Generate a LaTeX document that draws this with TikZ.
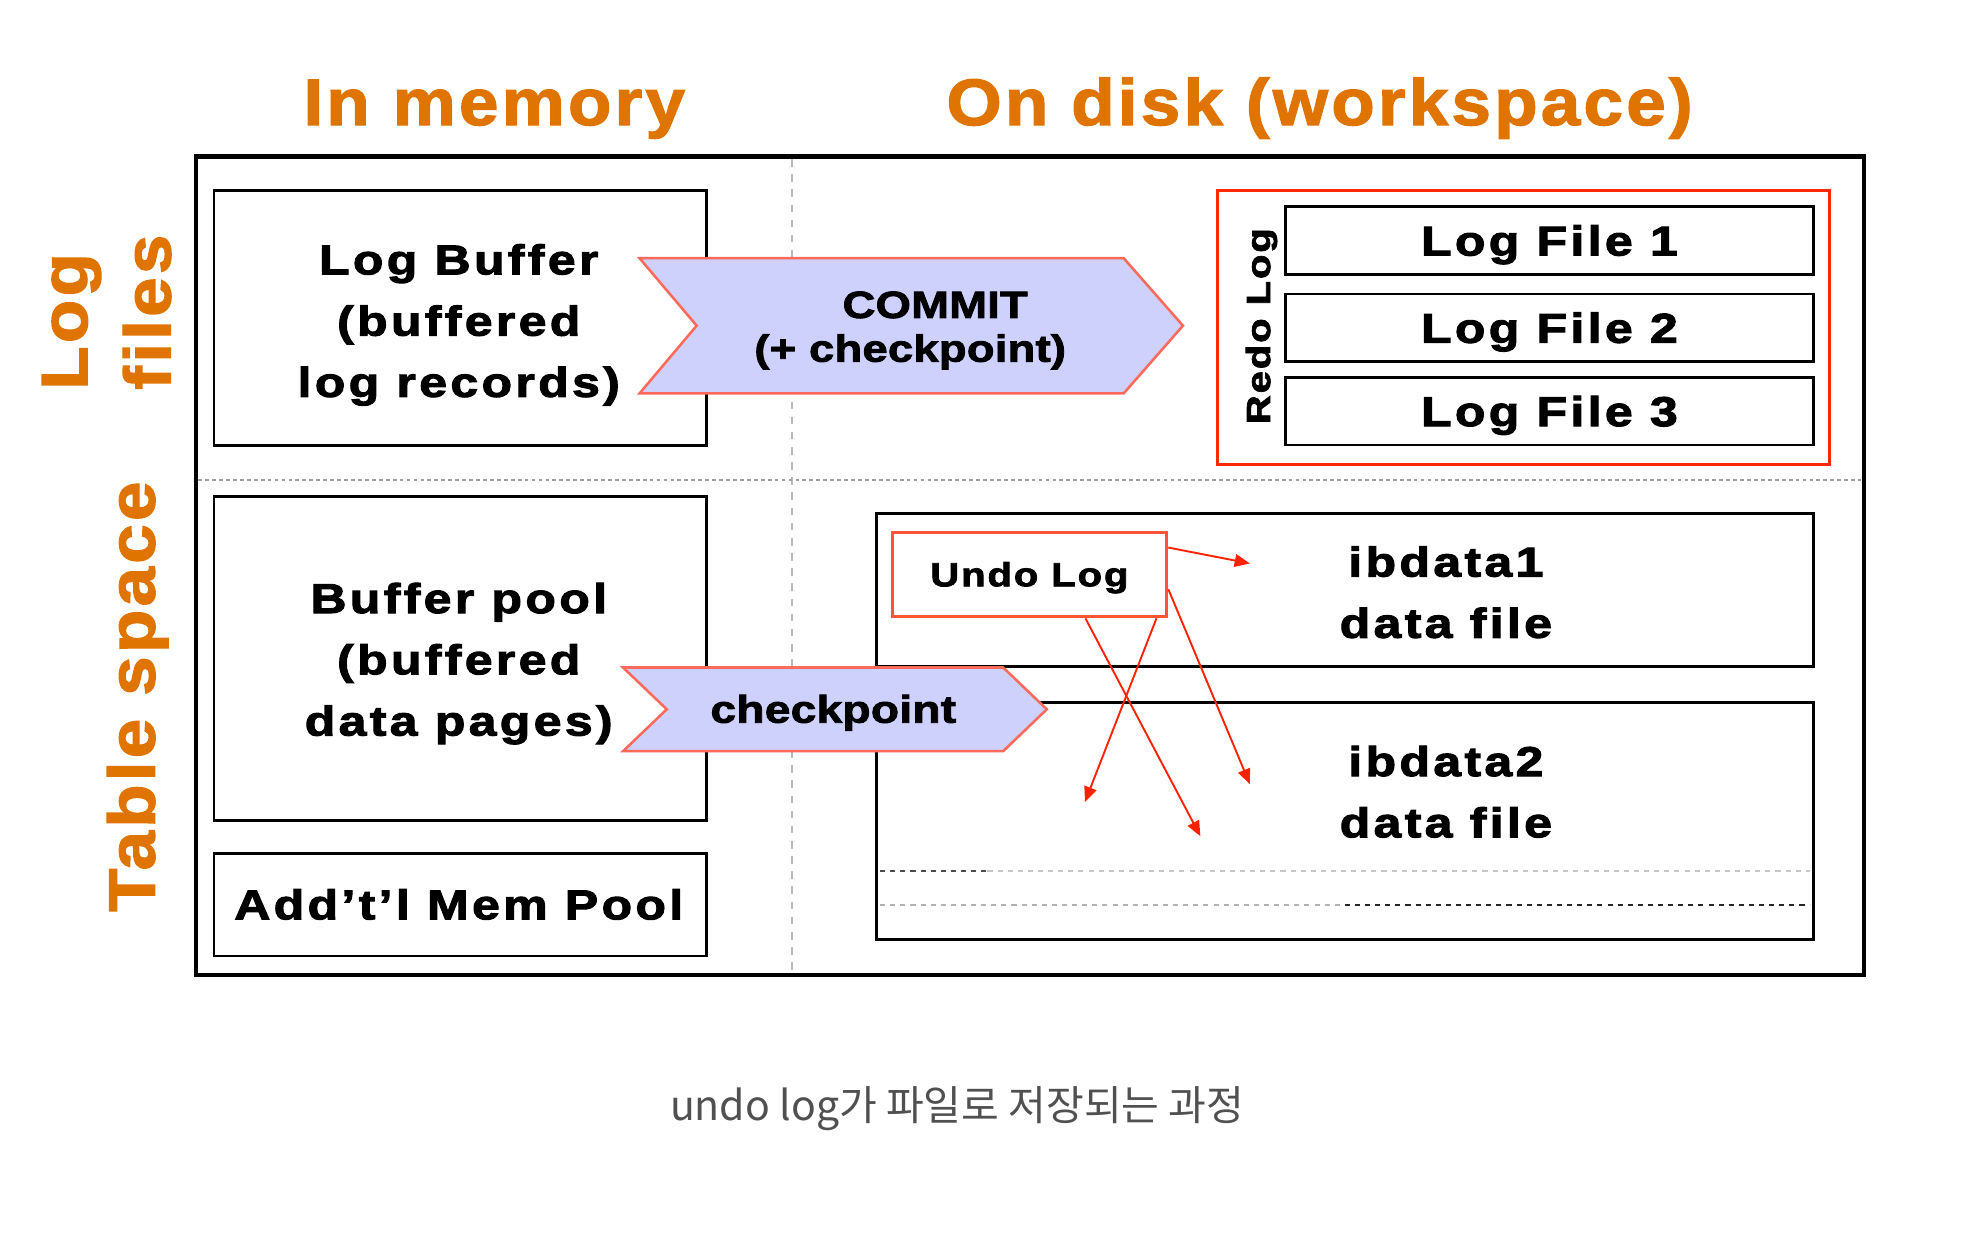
\documentclass[tikz,border=0pt]{standalone}
\usepackage{fontspec}
\setmainfont{Liberation Sans}
\newfontfamily\orangefont[LetterSpace=5,FakeStretch=1.08,FakeBold=2]{Liberation Sans}
\newfontfamily\boxfont[LetterSpace=8,FakeStretch=1.2,FakeBold=2.5]{Liberation Sans}
\newfontfamily\smallfont[LetterSpace=5.4,FakeStretch=1.2,FakeBold=2.2]{Liberation Sans}
\newfontfamily\commitfont[LetterSpace=0.5,FakeStretch=1.2,FakeBold=2.2]{Liberation Sans}
\newfontfamily\kofont{Noto Sans CJK KR}
\usetikzlibrary{arrows.meta}
\definecolor{orangetxt}{RGB}{224,116,0}
\definecolor{redline}{RGB}{255,40,0}
\definecolor{undoline}{RGB}{255,85,55}
\definecolor{chevline}{RGB}{255,105,90}
\definecolor{chevfill}{RGB}{205,209,252}
\definecolor{arrowred}{RGB}{255,34,0}
\definecolor{captiongray}{RGB}{80,80,80}
\tikzset{
  box/.style={draw, line width=2.2pt, inner sep=0pt},
  redbox/.style={draw=redline, line width=2.5pt, inner sep=0pt},
  chevron/.style={draw=chevline, fill=chevfill, line width=2pt, line join=miter},
  undoarrow/.style={draw=arrowred, line width=1.5pt, -{Triangle[length=12pt,width=10pt]}},
  sidelabel/.style={text=orangetxt, font=\orangefont\bfseries\fontsize{52}{66}\selectfont, inner sep=0pt},
  boxlabel/.style={font=\boxfont\bfseries\fontsize{33}{48.5}\selectfont, align=center, inner sep=0pt},
  smalllabel/.style={font=\smallfont\bfseries\fontsize{26.5}{30}\selectfont, inner sep=0pt},
  chevlabel/.style={font=\commitfont\bfseries\fontsize{30}{34}\selectfont, anchor=base, inner sep=0pt},
  dots/.style={line width=1.5pt, dash pattern=on 4pt off 4pt}
}
\begin{document}
\begin{tikzpicture}[x=1pt,y=-1pt]
\useasboundingbox (0,0) rectangle (1568,976.4);

% titles
\node[sidelabel, anchor=base] (memtitle) at (391.4,99) {In memory};
\node[sidelabel, anchor=base] (disktitle) at (1045,99) {On disk (workspace)};
\node[sidelabel, rotate=90, align=left] (loglabel) at (84.4,247.2) {Log\\files};
\node[sidelabel, rotate=90] (tablelabel) at (109,551.7) {Table space};

% frame and separators
\draw[line width=3.5pt] (155,124) rectangle (1476,772);
\draw[gray!55, line width=1.5pt, dash pattern=on 6pt off 6pt] (627,126) -- (627,770);
\draw[gray!75, line width=1.5pt, dash pattern=on 3pt off 2.5pt] (157,380) -- (1474,380);

% memory side
\node[box, minimum width=390pt, minimum height=201.5pt] (logbuf) at (364.5,251.75) {};
\node[box, minimum width=390pt, minimum height=257pt] (bufpool) at (364.5,521.5) {};
\node[box, minimum width=390pt, minimum height=81pt] (mempool) at (364.5,716.5) {};

% disk side
\node[redbox, minimum width=485pt, minimum height=217pt] (redo) at (1206.5,259.5) {};
\node[box, boxlabel, text height=23.6pt, text depth=0pt, minimum width=418pt, minimum height=53.6pt] (logfile1) at (1227,190.5) {Log File 1};
\node[box, boxlabel, text height=23.6pt, text depth=0pt, minimum width=418pt, minimum height=53.6pt] (logfile2) at (1227,259.6) {Log File 2};
\node[box, boxlabel, text height=23.6pt, text depth=0pt, minimum width=418pt, minimum height=53.6pt] (logfile3) at (1227,325.6) {Log File 3};
\node[smalllabel, rotate=90] (redolabel) at (999,258.3) {Redo Log};

\node[box, minimum width=742pt, minimum height=121.4pt] (ibdata1) at (1065,467.2) {};
\node[box, minimum width=742pt, minimum height=187.6pt] (ibdata2) at (1065,650) {};
\draw[dots, black!70] (697,689.4) -- (782,689.4);
\draw[dots, gray!45] (782,689.4) -- (1433,689.4);
\draw[dots, gray!60] (697,716.5) -- (1065,716.5);
\draw[dots, black!85] (1065,716.5) -- (1433,716.5);

% chevrons
\filldraw[chevron] (506.5,204.5) -- (889.9,204.5) -- (936.8,257.9) -- (889.9,311.5) -- (506.5,311.5) -- (551.7,257.9) -- cycle;
\filldraw[chevron] (493.4,528.6) -- (794.4,528.6) -- (829,561.7) -- (794.4,594.9) -- (493.4,594.9) -- (528,561.7) -- cycle;

% undo log and its pages
\node[draw=undoline, line width=2.5pt, smalllabel, text height=18.6pt, text depth=0pt, minimum width=217.5pt, minimum height=66.8pt] (undo) at (815.2,455) {Undo Log};
\coordinate (tip1) at (989.8,446.2);
\coordinate (tip2) at (989.8,621);
\coordinate (tip3) at (950.6,662.2);
\coordinate (tip4) at (859.2,635.1);
\draw[undoarrow] (undo.11) -- (tip1);
\draw[undoarrow] (undo.-6) -- (tip2);
\draw[undoarrow] (undo.-38.5) -- (tip3);
\draw[undoarrow] (undo.-19.4) -- (tip4);

% texts
\node[boxlabel] (logbuftext) at (363.3,257.3) {Log Buffer\\(buffered\\log records)};
\node[boxlabel] (bufpooltext) at (363.3,525.5) {Buffer pool\\(buffered\\data pages)};
\node[boxlabel, anchor=base] (mempooltext) at (363.3,728) {Add’t’l Mem Pool};
\node[boxlabel] (ibdata1text) at (1145,469) {ibdata1\\data file};
\node[boxlabel] (ibdata2text) at (1145,627) {ibdata2\\data file};
\node[chevlabel] (committext) at (740.6,251.8) {COMMIT};
\node[chevlabel] (committext2) at (720.8,286.4) {(+ checkpoint)};
\node[chevlabel, font=\commitfont\bfseries\fontsize{30.5}{34}\selectfont] (ckpttext) at (659.9,572.3) {checkpoint};

% caption
\node[font=\kofont\fontsize{32.5}{34}\selectfont, text=captiongray, anchor=base, inner sep=0pt] (caption) at (758,887) {undo log가 파일로 저장되는 과정};
\end{tikzpicture}
\end{document}
